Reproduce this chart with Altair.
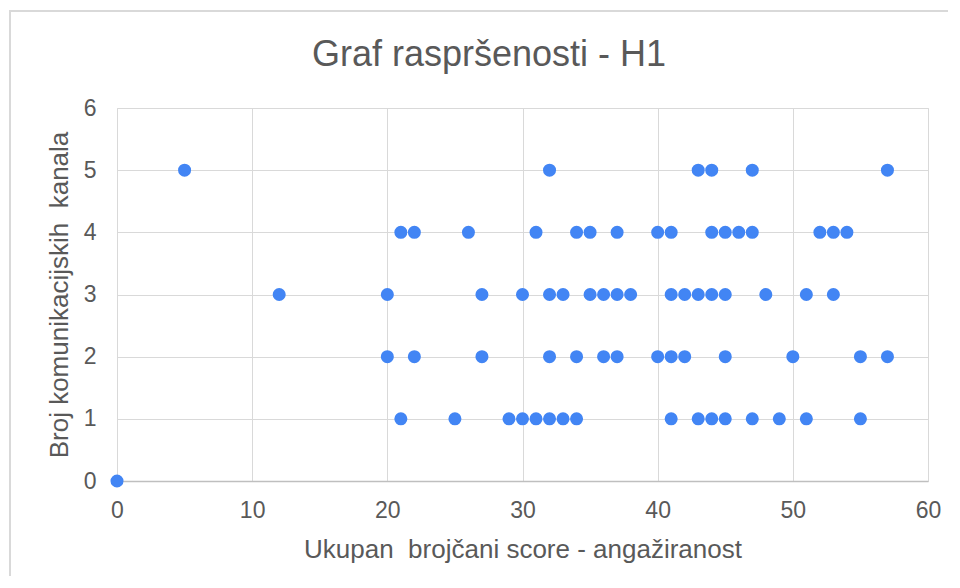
import altair as alt
import pandas as pd

# Data (score, number of channels)
x_y5 = [5, 32, 43, 44, 47, 57]
x_y4 = [21, 22, 26, 31, 34, 35, 37, 40, 41, 44, 45, 46, 47, 52, 53, 54]
x_y3 = [12, 20, 27, 30, 32, 33, 35, 36, 37, 38, 41, 42, 43, 44, 45, 48, 51, 53]
x_y2 = [20, 22, 27, 32, 34, 36, 37, 40, 41, 42, 45, 50, 55, 57]
x_y1 = [21, 25, 29, 30, 31, 32, 33, 34, 41, 43, 44, 45, 47, 49, 51, 55]
x_y0 = [0]
chart_title = "Graf raspršenosti - H1"

rows = []
for yv, xs in [(5, x_y5), (4, x_y4), (3, x_y3), (2, x_y2), (1, x_y1), (0, x_y0)]:
    for xv in xs:
        rows.append({"score": xv, "kanali": yv})
df = pd.DataFrame(rows)

TEXT = "#595959"
FONT = "Liberation Sans"

points = alt.Chart(df).mark_circle(size=170, color="#4285F4", opacity=1).encode(
    x=alt.X("score:Q",
            scale=alt.Scale(domain=[0, 60], nice=False, zero=True),
            axis=alt.Axis(values=[0, 10, 20, 30, 40, 50, 60],
                          title="Ukupan\u00a0 brojčani score - angažiranost",
                          labelFontSize=23, titleFontSize=26,
                          labelColor=TEXT, titleColor=TEXT,
                          labelFont=FONT, titleFont=FONT, titleFontWeight="normal",
                          ticks=False, domain=True, domainColor="#bfbfbf", domainWidth=1.5,
                          gridColor="#d9d9d9", labelPadding=18, titlePadding=14,
                          labelFlush=False)),
    y=alt.Y("kanali:Q",
            scale=alt.Scale(domain=[0, 6], nice=False),
            axis=alt.Axis(values=[0, 1, 2, 3, 4, 5, 6],
                          title="Broj komunikacijskih\u00a0 kanala",
                          labelFontSize=23, titleFontSize=26,
                          labelColor=TEXT, titleColor=TEXT,
                          labelFont=FONT, titleFont=FONT, titleFontWeight="normal",
                          ticks=False, domain=False,
                          gridColor="#d9d9d9", labelPadding=21, titlePadding=11,
                          labelFlush=False)),
)

frame_src = pd.DataFrame({"a": [0]})
border_top = alt.Chart(frame_src).mark_rule(color="#d9d9d9", strokeWidth=2).encode(
    x=alt.value(-108), x2=alt.value(900), y=alt.value(-97)
)
border_left = alt.Chart(frame_src).mark_rule(color="#d9d9d9", strokeWidth=2).encode(
    x=alt.value(-107), y=alt.value(-98), y2=alt.value(700)
)

title = alt.Chart(pd.DataFrame({"t": [chart_title]})).mark_text(
    fontSize=36, font=FONT, color=TEXT, align="center", baseline="middle"
).encode(text="t:N", x=alt.value(372), y=alt.value(-53))

chart = alt.layer(border_top, border_left, points, title).properties(
    width=811, height=373,
    autosize=alt.AutoSizeParams(type="none"),
    padding={"left": 109, "top": 100, "right": 20, "bottom": 95},
).configure_view(stroke=None).configure(background="white")

chart.save("out.html", embed_options={"renderer": "svg", "actions": False})
